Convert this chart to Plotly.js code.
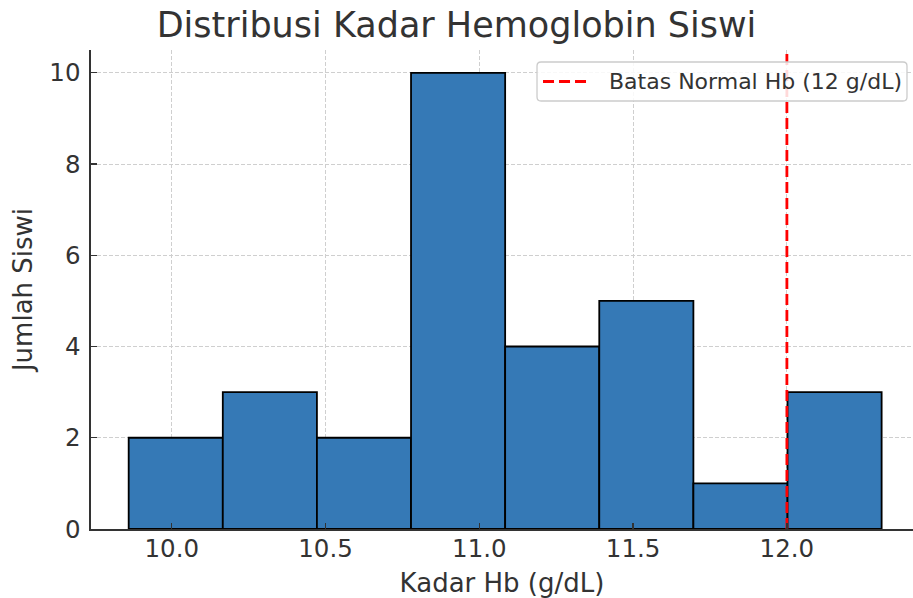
<!DOCTYPE html>
<html>
<head>
<meta charset="utf-8">
<script src="https://cdn.plot.ly/plotly-3.0.1.min.js"></script>
<style>html,body{margin:0;padding:0;background:#fff;}#chart{width:913px;height:598px;}</style>
</head>
<body>
<div id="chart"></div>
<script>
// Data
const binEdges = [9.86, 10.166, 10.472, 10.778, 11.084, 11.39, 11.696, 12.002, 12.308];
const counts = [2, 3, 2, 10, 4, 5, 1, 3];
const normalHb = 12;
const normalLabel = 'Batas Normal Hb (12 g/dL)';
const xTicks = [10.0, 10.5, 11.0, 11.5, 12.0];
const yTicks = [0, 2, 4, 6, 8, 10];

const centers = counts.map((_, i) => (binEdges[i] + binEdges[i + 1]) / 2);
const widths = counts.map((_, i) => binEdges[i + 1] - binEdges[i]);

const font = 'DejaVu Sans, sans-serif';
const txt = '#333333';
const red = '#ff0000';
const redDash = '11px,5px';

const traces = [
  {
    type: 'bar', x: centers, y: counts, width: widths,
    marker: {color: '#3579b6', line: {color: '#000000', width: 1.8}},
    showlegend: false, hoverinfo: 'x+y'
  },
  {
    type: 'scatter', mode: 'lines', x: [normalHb, normalHb], y: [0, 10.5],
    line: {color: red, width: 2.8, dash: redDash},
    name: normalLabel, showlegend: false
  }
];

// Legend box (paper coordinates), with rounded corners
const L = {x0: 0.5426, x1: 0.9927, y0: 0.8935, y1: 0.975};
const rx = 4 / 822, ry = 4 / 479;
const boxPath = `M${L.x0 + rx},${L.y1} L${L.x1 - rx},${L.y1} Q${L.x1},${L.y1} ${L.x1},${L.y1 - ry} ` +
  `L${L.x1},${L.y0 + ry} Q${L.x1},${L.y0} ${L.x1 - rx},${L.y0} L${L.x0 + rx},${L.y0} ` +
  `Q${L.x0},${L.y0} ${L.x0},${L.y0 + ry} L${L.x0},${L.y1 - ry} Q${L.x0},${L.y1} ${L.x0 + rx},${L.y1} Z`;
const legY = (L.y0 + L.y1) / 2;

const layout = {
  width: 913, height: 598,
  margin: {l: 91, r: 0, t: 50, b: 69},
  paper_bgcolor: '#ffffff', plot_bgcolor: '#ffffff',
  font: {family: font, color: txt},
  showlegend: false,
  title: {text: 'Distribusi Kadar Hemoglobin Siswi', font: {family: font, size: 35, color: txt},
          x: 0.5, xanchor: 'center', y: 0.958, yanchor: 'middle'},
  xaxis: {
    range: [9.7375, 12.41], tickvals: xTicks, tickformat: '.1f',
    showline: true, linecolor: '#333333', linewidth: 1.6,
    ticks: 'inside', ticklen: 6, tickwidth: 1.3, tickcolor: '#333333',
    ticklabelstandoff: -3,
    tickfont: {size: 24.5, color: txt, family: font},
    showgrid: true, gridcolor: '#cfcfcf', gridwidth: 1, griddash: '4px,2px',
    zeroline: false,
    title: {text: 'Kadar Hb (g/dL)', font: {size: 26, color: txt, family: font}, standoff: 12}
  },
  yaxis: {
    range: [0, 10.5], tickvals: yTicks,
    showline: true, linecolor: '#333333', linewidth: 1.6,
    ticks: 'inside', ticklen: 6, tickwidth: 1.3, tickcolor: '#333333',
    ticklabelstandoff: 4,
    tickfont: {size: 24.5, color: txt, family: font},
    showgrid: true, gridcolor: '#cfcfcf', gridwidth: 1, griddash: '4px,2px',
    zeroline: false,
    title: {text: 'Jumlah Siswi', font: {size: 26, color: txt, family: font}, standoff: 9}
  },
  shapes: [
    {type: 'path', xref: 'paper', yref: 'paper', path: boxPath,
     fillcolor: 'rgba(255,255,255,0.85)', line: {color: '#cccccc', width: 1.3}, layer: 'above'},
    {type: 'line', xref: 'paper', yref: 'paper', x0: 0.5499, x1: 0.6058, y0: legY, y1: legY,
     line: {color: red, width: 2.8, dash: redDash}, layer: 'above'}
  ],
  annotations: [
    {xref: 'paper', yref: 'paper', x: 0.6277, y: legY, xanchor: 'left', yanchor: 'middle',
     text: normalLabel, showarrow: false, font: {size: 22, color: txt, family: font}}
  ]
};

Plotly.newPlot('chart', traces, layout, {displayModeBar: false, staticPlot: true});
</script>
</body>
</html>
